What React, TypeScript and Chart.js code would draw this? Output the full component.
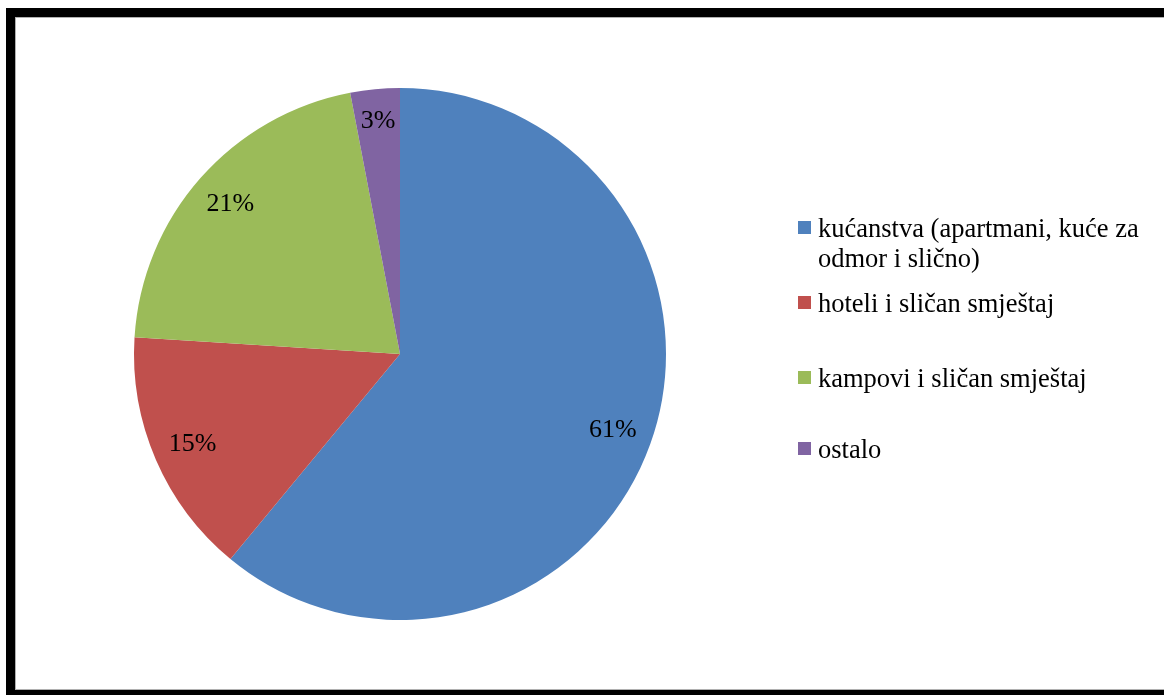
import React, { useEffect, useRef } from "react";
import { Chart, registerables } from "chart.js";

Chart.register(...registerables);

const categories = [
  "kućanstva (apartmani, kuće za odmor i slično)",
  "hoteli i sličan smještaj",
  "kampovi i sličan smještaj",
  "ostalo",
];
const values = [61, 15, 21, 3];
const colors = ["#4F81BD", "#C0504D", "#9BBB59", "#8064A2"];

const FONT = "'Liberation Serif', 'Times New Roman', serif";

function wrap(ctx: CanvasRenderingContext2D, text: string, maxW: number): string[] {
  const words = text.split(" ");
  const lines: string[] = [];
  let cur = "";
  for (const w of words) {
    const t = cur ? cur + " " + w : w;
    if (ctx.measureText(t).width > maxW && cur) {
      lines.push(cur);
      cur = w;
    } else cur = t;
  }
  if (cur) lines.push(cur);
  return lines;
}

const framePlugin = {
  id: "frame",
  beforeDraw(chart: any) {
    const ctx = chart.ctx;
    ctx.save();
    ctx.fillStyle = "#ffffff";
    ctx.fillRect(0, 0, chart.width, chart.height);
    ctx.strokeStyle = "#000000";
    ctx.lineWidth = 9;
    ctx.strokeRect(10.5, 12.5, 1200, 682);
    ctx.strokeStyle = "#b0b0b0";
    ctx.lineWidth = 1;
    ctx.strokeRect(15.5, 17.5, 1200, 672);
    ctx.restore();
  },
};

const labelPlugin = {
  id: "sliceLabels",
  afterDatasetsDraw(chart: any) {
    const ctx = chart.ctx;
    const meta = chart.getDatasetMeta(0);
    const ds = chart.data.datasets[0];
    const total = ds.data.reduce((a: number, b: number) => a + b, 0);
    ctx.save();
    ctx.font = `26px ${FONT}`;
    ctx.fillStyle = "#000";
    ctx.textAlign = "center";
    ctx.textBaseline = "middle";
    meta.data.forEach((arc: any, i: number) => {
      const { x, y, startAngle, endAngle, outerRadius } = arc.getProps(
        ["x", "y", "startAngle", "endAngle", "outerRadius"],
        true
      );
      const mid = (startAngle + endAngle) / 2;
      const r = outerRadius * (ds.data[i] / total < 0.05 ? 0.88 : 0.85);
      const pct = Math.round((ds.data[i] / total) * 100) + "%";
      ctx.fillText(pct, x + Math.cos(mid) * r, y + Math.sin(mid) * r);
    });
    ctx.restore();
  },
};

const legendPlugin = {
  id: "customLegend",
  afterDraw(chart: any) {
    const ctx = chart.ctx;
    const labels: string[] = chart.data.labels;
    const bg: string[] = chart.data.datasets[0].backgroundColor;
    const baselines = [237, 312, 387, 458];
    const lineH = 30;
    ctx.save();
    ctx.font = `26.5px ${FONT}`;
    ctx.fillStyle = "#000";
    ctx.textAlign = "left";
    ctx.textBaseline = "alphabetic";
    labels.forEach((lab, i) => {
      const lines = wrap(ctx, lab, 335);
      const b = baselines[i];
      ctx.fillStyle = bg[i];
      ctx.fillRect(798, b - 16, 13, 13);
      ctx.fillStyle = "#000";
      lines.forEach((ln, j) => ctx.fillText(ln, 818, b + j * lineH));
    });
    ctx.restore();
  },
};

export default function App() {
  const ref = useRef<HTMLCanvasElement>(null);
  useEffect(() => {
    document.body.style.margin = "0";
    document.body.style.overflow = "hidden";
    const chart = new Chart(ref.current!, {
      type: "pie",
      data: {
        labels: categories,
        datasets: [
          {
            data: values,
            backgroundColor: colors,
            borderWidth: 0,
          },
        ],
      },
      options: {
        responsive: false,
        animation: false,
        events: [],
        layout: { padding: { left: 134, right: 498, top: 88, bottom: 75 } },
        plugins: {
          legend: { display: false },
          tooltip: { enabled: false },
        },
      },
      plugins: [framePlugin, labelPlugin, legendPlugin],
    });
    return () => chart.destroy();
  }, []);
  return (
    <div style={{ position: "relative", width: 1164, height: 695 }}>
      <canvas ref={ref} width={1164} height={695} style={{ display: "block" }} />
    </div>
  );
}
